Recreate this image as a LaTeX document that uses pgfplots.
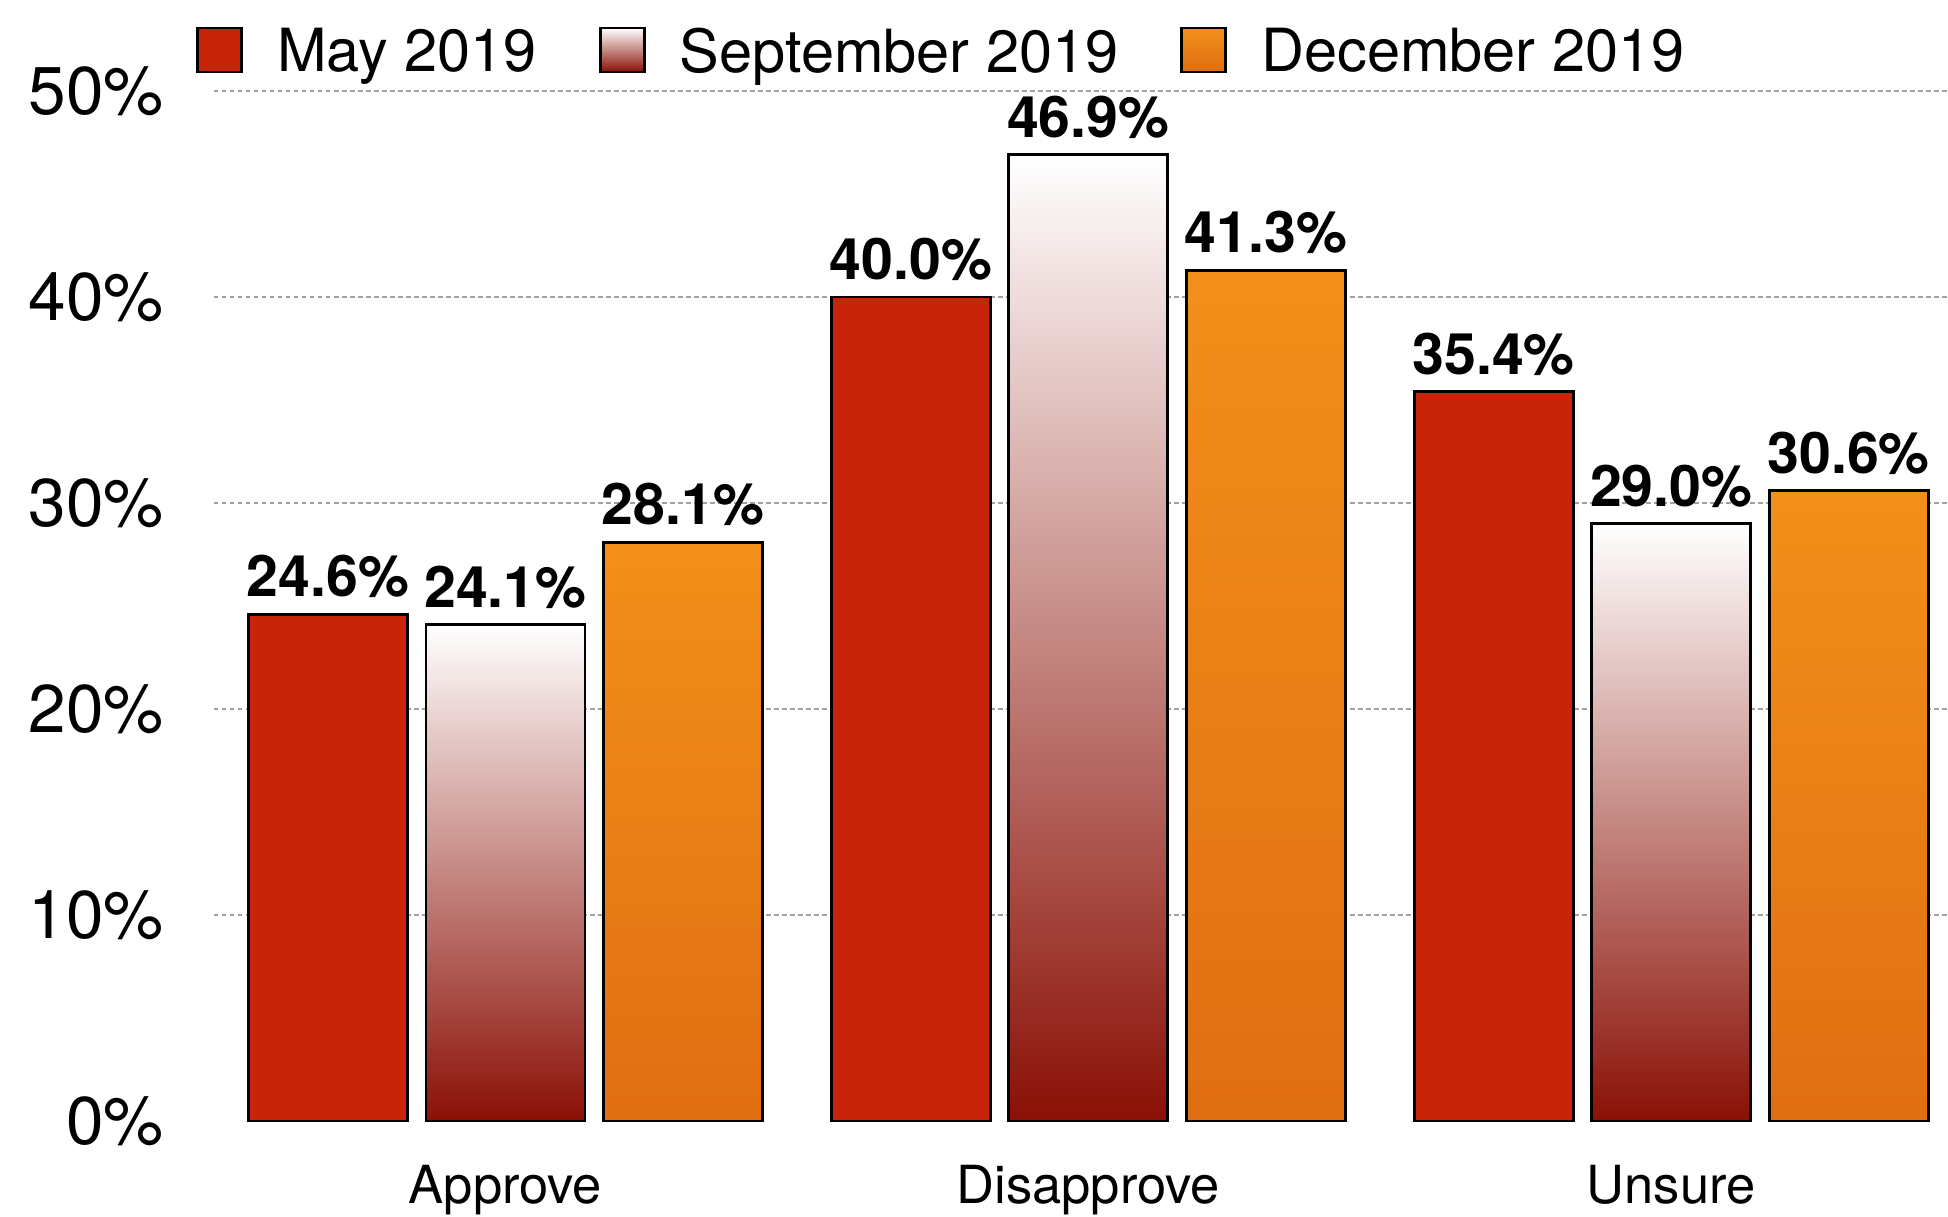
\documentclass[border=0pt]{standalone}
\usepackage{fontspec}
\setmainfont{TeX Gyre Heros}
\usepackage{pgfplots}
\pgfplotsset{compat=1.18}
\definecolor{myred}{RGB}{200,37,8}
\definecolor{darkred}{RGB}{138,16,6}
\definecolor{orangetop}{RGB}{242,144,26}
\definecolor{orangebot}{RGB}{224,110,18}
\definecolor{gridgray}{RGB}{160,160,160}
\pgfplotsset{
 mylegend/.style={legend image code/.code={\draw[##1] (0pt,-8.8pt) rectangle (17.6pt,8.8pt);}},
 mayS/.style={bar shift=-71pt, draw=black, line width=1.1pt, fill=myred, mylegend},
 sepS/.style={bar shift=0pt, draw=black, line width=1.1pt, top color=white, bottom color=darkred, mylegend},
 decS/.style={bar shift=71pt, draw=black, line width=1.1pt, top color=orangetop, bottom color=orangebot, mylegend},
}
\begin{document}
\begin{tikzpicture}
\begin{axis}[
 scale only axis, width=693.6pt, height=412pt,
 xmin=-0.5, xmax=2.475, ymin=0, ymax=50,
 ybar, bar width=63.6pt,
 clip=false,
 axis line style={draw=none},
 major tick length=0pt,
 xtick={0,1,2}, xticklabels={Approve,Disapprove,Unsure},
 xticklabel style={font=\fontsize{21}{25}\selectfont, anchor=north, inner sep=0pt, yshift=-17.6pt},
 ytick={10,20,30,40,50}, extra y ticks={0}, extra y tick style={grid=none},
 ymajorgrids, grid style={gridgray, line width=0.8pt, dash pattern=on 1.8pt off 1.4pt},
 yticklabel={\pgfmathprintnumber{\tick}\%},
 /pgf/number format/assume math mode=true,
 yticklabel style={font=\fontsize{27}{32}\selectfont, anchor=east, inner sep=0pt, xshift=-19.8pt},
 nodes near coords={\pgfmathprintnumber[fixed,fixed zerofill,precision=1]{\pgfplotspointmeta}\%},
 nodes near coords style={font=\bfseries\fontsize{22.9}{27}\selectfont, anchor=base, yshift=7pt, inner sep=0pt, text=black},
 legend style={draw=none, fill=none, inner sep=0pt, at={(axis description cs:0,1)}, anchor=west, xshift=-7.2pt, yshift=16.4pt, font=\fontsize{23.8}{28}\selectfont, nodes={inner sep=0pt, text depth=0pt}, /tikz/every odd column/.append style={column sep=13.6pt}, /tikz/every even column/.append style={column sep=24.8pt}},
 legend columns=-1,
]
\addplot[mayS] coordinates {(0,24.6) (1,40.0) (2,35.4)};
\addplot[sepS] coordinates {(0,24.1)};
\addplot[sepS, forget plot] coordinates {(1,46.9)};
\addplot[sepS, forget plot] coordinates {(2,29.0)};
\addplot[decS] coordinates {(0,28.1)};
\addplot[decS, forget plot] coordinates {(1,41.3)};
\addplot[decS, forget plot] coordinates {(2,30.6)};
\legend{May 2019, September 2019, December 2019}
\end{axis}
\pgfresetboundingbox
\path[use as bounding box] (-85.6pt,-38.4pt) rectangle (693.6pt,448.4pt);
\end{tikzpicture}
\end{document}
